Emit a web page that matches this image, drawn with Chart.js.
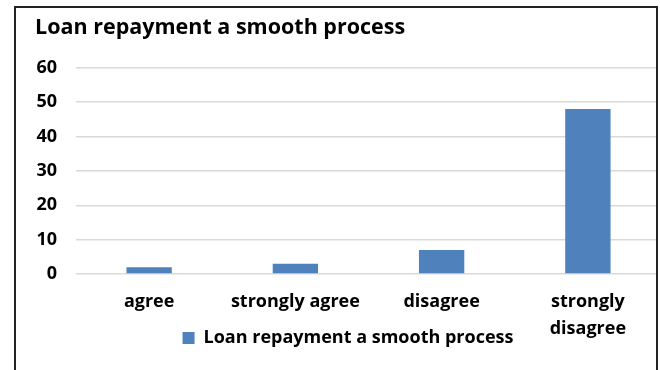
<!DOCTYPE html>
<html>
<head>
<meta charset="utf-8">
<script src="https://cdn.jsdelivr.net/npm/chart.js@4"></script>
<style>
body{margin:0;background:#fff;overflow:hidden}
#wrap{position:relative;width:660px;height:370px;overflow:hidden}
#c{position:absolute;left:0;top:0}
#frame{position:absolute;left:14px;top:6px;width:640px;height:400px;border:2px solid #222;pointer-events:none}
#edge{position:absolute;left:657px;top:0;width:10px;height:370px;background:#fff}
</style>
</head>
<body>
<div id="wrap">
<canvas id="c" width="670" height="370" style="width:670px;height:370px"></canvas>
<div id="edge"></div>
<div id="frame"></div>
</div>
<script>
// survey answers
let categories = ["agree","strongly agree","disagree",["strongly","disagree"]]
let valores = [2,3,7,48]
let seriesName = "Loan repayment a smooth process"
let yTicks = [0,10,20,30,40,50,60]

let font = "'Open Sans', 'Liberation Sans', sans-serif"

// legend sits beside the wrapped category label, so lift it after layout
let legendLift = {
id:"legendLift",
afterLayout(chart){
let lg = chart.legend
let h = lg.bottom - lg.top
lg.top = 319
lg.bottom = lg.top + h
}
}

new Chart(document.getElementById("c"),{
type:"bar",
data:{
labels:categories,
datasets:[{
label:seriesName,
data:valores,
backgroundColor:"#4F81BD",
categoryPercentage:1,
barPercentage:0.31
}]
},
plugins:[legendLift],
options:{
responsive:false,
animation:false,
layout:{padding:{left:35,top:12,right:9,bottom:-16}},
plugins:{
title:{
display:true,
text:seriesName,
align:"start",
color:"#000",
font:{family:font,size:21.5,weight:"bold"},
padding:{top:3,bottom:27}
},
legend:{
position:"bottom",
maxHeight:30,
labels:{
color:"#000",
font:{family:font,size:18,weight:"bold"},
boxWidth:12,
boxHeight:12,
padding:10
}
},
tooltip:{enabled:false}
},
scales:{
x:{
grid:{display:false,drawTicks:false},
border:{display:false},
ticks:{color:"#000",font:{family:font,size:18,weight:"bold",lineHeight:1.5},padding:14,maxRotation:0}
},
y:{
min:0,
max:60,
afterBuildTicks:s=>{s.ticks=yTicks.map(v=>({value:v}))},
grid:{color:"#D9D9D9",lineWidth:1.5,drawTicks:false},
border:{display:false},
ticks:{color:"#000",font:{family:font,size:18,weight:"bold"},padding:19},
afterFit:s=>{s.width=41}
}
}
}
})
</script>
</body>
</html>
